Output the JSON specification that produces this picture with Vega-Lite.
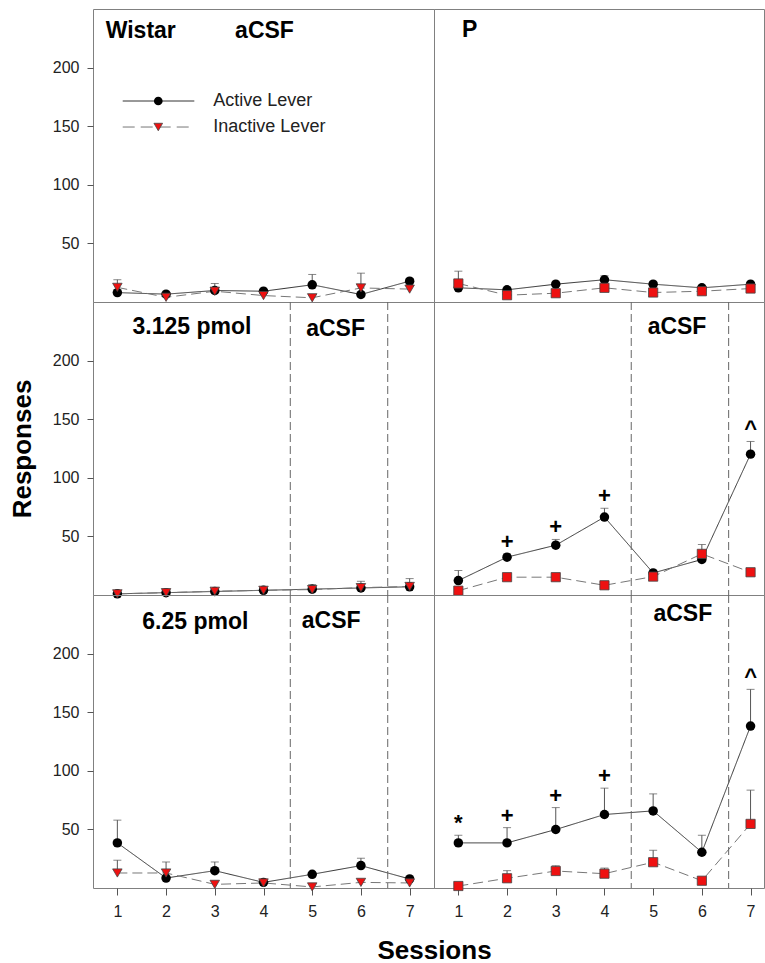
{
  "$schema": "https://vega.github.io/schema/vega-lite/v6.json",
  "padding": {"left": 8, "top": 8, "right": 1, "bottom": 0},
  "background": "white",
  "config": {
    "font": "Liberation Sans",
    "view": {"stroke": "#808080", "strokeWidth": 1},
    "axis": {"domain": false, "grid": false, "labelFont": "Liberation Sans", "labelFontSize": 16, "labelColor": "#222222", "tickColor": "#555555", "titleFont": "Liberation Sans", "titleFontSize": 26, "titleFontWeight": "bold", "titleColor": "#000000", "labelFlush": false},
    "text": {"font": "Liberation Sans"}
  },
  "datasets": {
    "obs": [
      {"strain":"Wistar","dose":"aCSF","lever":"Active","session":1,"mean":8,"upper":8},
      {"strain":"Wistar","dose":"aCSF","lever":"Active","session":2,"mean":6.7,"upper":6.7},
      {"strain":"Wistar","dose":"aCSF","lever":"Active","session":3,"mean":9.8,"upper":15.8},
      {"strain":"Wistar","dose":"aCSF","lever":"Active","session":4,"mean":9.2,"upper":9.2},
      {"strain":"Wistar","dose":"aCSF","lever":"Active","session":5,"mean":14.7,"upper":23.5},
      {"strain":"Wistar","dose":"aCSF","lever":"Active","session":6,"mean":6.4,"upper":6.4},
      {"strain":"Wistar","dose":"aCSF","lever":"Active","session":7,"mean":17.8,"upper":20},
      {"strain":"Wistar","dose":"aCSF","lever":"Inactive","session":1,"mean":12.5,"upper":19},
      {"strain":"Wistar","dose":"aCSF","lever":"Inactive","session":2,"mean":4,"upper":4},
      {"strain":"Wistar","dose":"aCSF","lever":"Inactive","session":3,"mean":9.2,"upper":9.2},
      {"strain":"Wistar","dose":"aCSF","lever":"Inactive","session":4,"mean":5.5,"upper":5.5},
      {"strain":"Wistar","dose":"aCSF","lever":"Inactive","session":5,"mean":3.6,"upper":3.6},
      {"strain":"Wistar","dose":"aCSF","lever":"Inactive","session":6,"mean":12,"upper":24.6},
      {"strain":"Wistar","dose":"aCSF","lever":"Inactive","session":7,"mean":11,"upper":11},
      {"strain":"P","dose":"aCSF","lever":"Active","session":1,"mean":12.1,"upper":12.1},
      {"strain":"P","dose":"aCSF","lever":"Active","session":2,"mean":10.4,"upper":10.4},
      {"strain":"P","dose":"aCSF","lever":"Active","session":3,"mean":15.2,"upper":15.2},
      {"strain":"P","dose":"aCSF","lever":"Active","session":4,"mean":19,"upper":22.4},
      {"strain":"P","dose":"aCSF","lever":"Active","session":5,"mean":15.2,"upper":17},
      {"strain":"P","dose":"aCSF","lever":"Active","session":6,"mean":12.1,"upper":12.1},
      {"strain":"P","dose":"aCSF","lever":"Active","session":7,"mean":15.2,"upper":15.2},
      {"strain":"P","dose":"aCSF","lever":"Inactive","session":1,"mean":15.8,"upper":26.3},
      {"strain":"P","dose":"aCSF","lever":"Inactive","session":2,"mean":5.8,"upper":5.8},
      {"strain":"P","dose":"aCSF","lever":"Inactive","session":3,"mean":7.5,"upper":7.5},
      {"strain":"P","dose":"aCSF","lever":"Inactive","session":4,"mean":12.1,"upper":12.1},
      {"strain":"P","dose":"aCSF","lever":"Inactive","session":5,"mean":8.1,"upper":8.1},
      {"strain":"P","dose":"aCSF","lever":"Inactive","session":6,"mean":9.2,"upper":9.2},
      {"strain":"P","dose":"aCSF","lever":"Inactive","session":7,"mean":11.5,"upper":11.5},
      {"strain":"Wistar","dose":"3.125 pmol","lever":"Active","session":1,"mean":1,"upper":1},
      {"strain":"Wistar","dose":"3.125 pmol","lever":"Active","session":2,"mean":2,"upper":2},
      {"strain":"Wistar","dose":"3.125 pmol","lever":"Active","session":3,"mean":3,"upper":3},
      {"strain":"Wistar","dose":"3.125 pmol","lever":"Active","session":4,"mean":4,"upper":4},
      {"strain":"Wistar","dose":"3.125 pmol","lever":"Active","session":5,"mean":5,"upper":8.9},
      {"strain":"Wistar","dose":"3.125 pmol","lever":"Active","session":6,"mean":6,"upper":11.7},
      {"strain":"Wistar","dose":"3.125 pmol","lever":"Active","session":7,"mean":7,"upper":14},
      {"strain":"Wistar","dose":"3.125 pmol","lever":"Inactive","session":1,"mean":1,"upper":1},
      {"strain":"Wistar","dose":"3.125 pmol","lever":"Inactive","session":2,"mean":2,"upper":2},
      {"strain":"Wistar","dose":"3.125 pmol","lever":"Inactive","session":3,"mean":3.2,"upper":3.2},
      {"strain":"Wistar","dose":"3.125 pmol","lever":"Inactive","session":4,"mean":4,"upper":4},
      {"strain":"Wistar","dose":"3.125 pmol","lever":"Inactive","session":5,"mean":4.6,"upper":4.6},
      {"strain":"Wistar","dose":"3.125 pmol","lever":"Inactive","session":6,"mean":6.3,"upper":6.3},
      {"strain":"Wistar","dose":"3.125 pmol","lever":"Inactive","session":7,"mean":7.3,"upper":7.3},
      {"strain":"P","dose":"3.125 pmol","lever":"Active","session":1,"mean":12.3,"upper":20.9},
      {"strain":"P","dose":"3.125 pmol","lever":"Active","session":2,"mean":32.3,"upper":35,"sig":"+"},
      {"strain":"P","dose":"3.125 pmol","lever":"Active","session":3,"mean":42.5,"upper":47.4,"sig":"+"},
      {"strain":"P","dose":"3.125 pmol","lever":"Active","session":4,"mean":66.5,"upper":74,"sig":"+"},
      {"strain":"P","dose":"3.125 pmol","lever":"Active","session":5,"mean":18.8,"upper":18.8},
      {"strain":"P","dose":"3.125 pmol","lever":"Active","session":6,"mean":30.3,"upper":30.3},
      {"strain":"P","dose":"3.125 pmol","lever":"Active","session":7,"mean":120.2,"upper":131,"sig":"^"},
      {"strain":"P","dose":"3.125 pmol","lever":"Inactive","session":1,"mean":3.7,"upper":3.7},
      {"strain":"P","dose":"3.125 pmol","lever":"Inactive","session":2,"mean":15.2,"upper":15.2},
      {"strain":"P","dose":"3.125 pmol","lever":"Inactive","session":3,"mean":15.2,"upper":15.2},
      {"strain":"P","dose":"3.125 pmol","lever":"Inactive","session":4,"mean":8.3,"upper":8.3},
      {"strain":"P","dose":"3.125 pmol","lever":"Inactive","session":5,"mean":15.7,"upper":15.7},
      {"strain":"P","dose":"3.125 pmol","lever":"Inactive","session":6,"mean":35.1,"upper":43.1},
      {"strain":"P","dose":"3.125 pmol","lever":"Inactive","session":7,"mean":19.4,"upper":19.4},
      {"strain":"Wistar","dose":"6.25 pmol","lever":"Active","session":1,"mean":38.5,"upper":57.9},
      {"strain":"Wistar","dose":"6.25 pmol","lever":"Active","session":2,"mean":8.5,"upper":8.5},
      {"strain":"Wistar","dose":"6.25 pmol","lever":"Active","session":3,"mean":14.8,"upper":22.2},
      {"strain":"Wistar","dose":"6.25 pmol","lever":"Active","session":4,"mean":4.8,"upper":4.8},
      {"strain":"Wistar","dose":"6.25 pmol","lever":"Active","session":5,"mean":11.7,"upper":11.7},
      {"strain":"Wistar","dose":"6.25 pmol","lever":"Active","session":6,"mean":19.1,"upper":25.4},
      {"strain":"Wistar","dose":"6.25 pmol","lever":"Active","session":7,"mean":7.7,"upper":7.7},
      {"strain":"Wistar","dose":"6.25 pmol","lever":"Inactive","session":1,"mean":12.8,"upper":23.7},
      {"strain":"Wistar","dose":"6.25 pmol","lever":"Inactive","session":2,"mean":12.8,"upper":22.2},
      {"strain":"Wistar","dose":"6.25 pmol","lever":"Inactive","session":3,"mean":3.1,"upper":3.1},
      {"strain":"Wistar","dose":"6.25 pmol","lever":"Inactive","session":4,"mean":4.3,"upper":4.3},
      {"strain":"Wistar","dose":"6.25 pmol","lever":"Inactive","session":5,"mean":0.9,"upper":0.9},
      {"strain":"Wistar","dose":"6.25 pmol","lever":"Inactive","session":6,"mean":4.8,"upper":4.8},
      {"strain":"Wistar","dose":"6.25 pmol","lever":"Inactive","session":7,"mean":4.3,"upper":4.3},
      {"strain":"P","dose":"6.25 pmol","lever":"Active","session":1,"mean":38.5,"upper":45,"sig":"*"},
      {"strain":"P","dose":"6.25 pmol","lever":"Active","session":2,"mean":38.5,"upper":51.5,"sig":"+"},
      {"strain":"P","dose":"6.25 pmol","lever":"Active","session":3,"mean":49.9,"upper":68.6,"sig":"+"},
      {"strain":"P","dose":"6.25 pmol","lever":"Active","session":4,"mean":62.7,"upper":85.2,"sig":"+"},
      {"strain":"P","dose":"6.25 pmol","lever":"Active","session":5,"mean":65.8,"upper":80.3},
      {"strain":"P","dose":"6.25 pmol","lever":"Active","session":6,"mean":30.5,"upper":45},
      {"strain":"P","dose":"6.25 pmol","lever":"Active","session":7,"mean":138.2,"upper":169.5,"sig":"^"},
      {"strain":"P","dose":"6.25 pmol","lever":"Inactive","session":1,"mean":1.7,"upper":1.7},
      {"strain":"P","dose":"6.25 pmol","lever":"Inactive","session":2,"mean":8.3,"upper":14.8},
      {"strain":"P","dose":"6.25 pmol","lever":"Inactive","session":3,"mean":14.5,"upper":19},
      {"strain":"P","dose":"6.25 pmol","lever":"Inactive","session":4,"mean":12.2,"upper":17},
      {"strain":"P","dose":"6.25 pmol","lever":"Inactive","session":5,"mean":22,"upper":32.2},
      {"strain":"P","dose":"6.25 pmol","lever":"Inactive","session":6,"mean":6.2,"upper":6.2},
      {"strain":"P","dose":"6.25 pmol","lever":"Inactive","session":7,"mean":54.7,"upper":83.5}
    ]
  },
  "columns": 2,
  "spacing": 0,
  "bounds": "flush",
  "concat": [
    {
      "width": 341, "height": 293,
      "data": {"name": "obs"},
      "transform": [{"filter": "datum.strain == 'Wistar' && datum.dose == 'aCSF'"}],
      "layer": [
        {"mark": {"type": "line", "strokeWidth": 1},
         "encoding": {
           "x": {"field": "session", "type": "quantitative", "scale": {"domain": [0.5, 7.5], "nice": false, "zero": false}, "axis": null},
           "y": {"field": "mean", "type": "quantitative", "scale": {"domain": [0, 250], "nice": false, "zero": false}, "axis": {"values": [50, 100, 150, 200], "tickSize": 6, "labelPadding": 8, "title": null}},
           "color": {"field": "lever", "type": "nominal", "scale": {"domain": ["Active", "Inactive"], "range": ["#333333", "#777777"]}, "legend": null},
           "strokeDash": {"field": "lever", "type": "nominal", "scale": {"domain": ["Active", "Inactive"], "range": [[1, 0], [10, 5]]}, "legend": null}}},
        {"transform": [{"filter": "datum.upper > datum.mean"}],
         "mark": {"type": "rule", "color": "#555555", "strokeWidth": 1},
         "encoding": {"x": {"field": "session", "type": "quantitative"}, "y": {"field": "mean", "type": "quantitative"}, "y2": {"field": "upper"}}},
        {"transform": [{"filter": "datum.upper > datum.mean"}],
         "mark": {"type": "tick", "orient": "horizontal", "color": "#555555", "size": 8, "thickness": 1},
         "encoding": {"x": {"field": "session", "type": "quantitative"}, "y": {"field": "upper", "type": "quantitative"}}},
        {"transform": [{"filter": "datum.lever == 'Active'"}],
         "mark": {"type": "point", "shape": "circle", "filled": true, "color": "#000000", "size": 90, "opacity": 1},
         "encoding": {"x": {"field": "session", "type": "quantitative"}, "y": {"field": "mean", "type": "quantitative"}}},
        {"transform": [{"filter": "datum.lever == 'Inactive'"}],
         "mark": {"type": "point", "shape": "triangle-down", "filled": true, "fill": "#ee1111", "stroke": "#444444", "strokeWidth": 0.8, "size": 90, "opacity": 1},
         "encoding": {"x": {"field": "session", "type": "quantitative"}, "y": {"field": "mean", "type": "quantitative"}}},
        {"data": {"values": [{}]}, "mark": {"type": "text", "fontSize": 23, "fontWeight": "bold", "align": "center", "baseline": "alphabetic", "color": "#000000"},
         "encoding": {"x": {"datum": 1.48}, "y": {"datum": 225.4}, "text": {"value": "Wistar"}}},
        {"data": {"values": [{}]}, "mark": {"type": "text", "fontSize": 23, "fontWeight": "bold", "align": "center", "baseline": "alphabetic", "color": "#000000"},
         "encoding": {"x": {"datum": 4.02}, "y": {"datum": 225.4}, "text": {"value": "aCSF"}}},
        {"data": {"values": [{}]}, "mark": {"type": "rule", "color": "#333333", "strokeWidth": 1},
         "encoding": {"x": {"datum": 1.11}, "x2": {"datum": 2.58}, "y": {"datum": 171.5}}},
        {"data": {"values": [{}]}, "mark": {"type": "point", "shape": "circle", "filled": true, "color": "#000000", "size": 75, "opacity": 1},
         "encoding": {"x": {"datum": 1.84}, "y": {"datum": 171.5}}},
        {"data": {"values": [{}]}, "mark": {"type": "text", "fontSize": 18, "align": "left", "baseline": "middle", "color": "#222222"},
         "encoding": {"x": {"datum": 2.97}, "y": {"datum": 171.5}, "text": {"value": "Active Lever"}}},
        {"data": {"values": [{}]}, "mark": {"type": "rule", "color": "#777777", "strokeWidth": 1, "strokeDash": [12, 6]},
         "encoding": {"x": {"datum": 1.11}, "x2": {"datum": 2.58}, "y": {"datum": 149.3}}},
        {"data": {"values": [{}]}, "mark": {"type": "point", "shape": "triangle-down", "filled": true, "fill": "#ee1111", "stroke": "#444444", "strokeWidth": 0.8, "size": 75, "opacity": 1},
         "encoding": {"x": {"datum": 1.84}, "y": {"datum": 149.3}}},
        {"data": {"values": [{}]}, "mark": {"type": "text", "fontSize": 18, "align": "left", "baseline": "middle", "color": "#222222"},
         "encoding": {"x": {"datum": 2.97}, "y": {"datum": 149.3}, "text": {"value": "Inactive Lever"}}}
      ]
    },
    {
      "width": 330, "height": 293,
      "data": {"name": "obs"},
      "transform": [{"filter": "datum.strain == 'P' && datum.dose == 'aCSF'"}],
      "layer": [
        {"mark": {"type": "line", "strokeWidth": 1},
         "encoding": {
           "x": {"field": "session", "type": "quantitative", "scale": {"domain": [0.5, 7.276], "nice": false, "zero": false}, "axis": null},
           "y": {"field": "mean", "type": "quantitative", "scale": {"domain": [0, 250], "nice": false, "zero": false}, "axis": null},
           "color": {"field": "lever", "type": "nominal", "scale": {"domain": ["Active", "Inactive"], "range": ["#333333", "#777777"]}, "legend": null},
           "strokeDash": {"field": "lever", "type": "nominal", "scale": {"domain": ["Active", "Inactive"], "range": [[1, 0], [10, 5]]}, "legend": null}}},
        {"transform": [{"filter": "datum.upper > datum.mean"}],
         "mark": {"type": "rule", "color": "#555555", "strokeWidth": 1},
         "encoding": {"x": {"field": "session", "type": "quantitative", "axis": null}, "y": {"field": "mean", "type": "quantitative", "axis": null}, "y2": {"field": "upper"}}},
        {"transform": [{"filter": "datum.upper > datum.mean"}],
         "mark": {"type": "tick", "orient": "horizontal", "color": "#555555", "size": 8, "thickness": 1},
         "encoding": {"x": {"field": "session", "type": "quantitative", "axis": null}, "y": {"field": "upper", "type": "quantitative", "axis": null}}},
        {"transform": [{"filter": "datum.lever == 'Active'"}],
         "mark": {"type": "point", "shape": "circle", "filled": true, "color": "#000000", "size": 90, "opacity": 1},
         "encoding": {"x": {"field": "session", "type": "quantitative", "axis": null}, "y": {"field": "mean", "type": "quantitative", "axis": null}}},
        {"transform": [{"filter": "datum.lever == 'Inactive'"}],
         "mark": {"type": "point", "shape": "square", "filled": true, "fill": "#ee1111", "stroke": "#444444", "strokeWidth": 0.8, "size": 85, "opacity": 1},
         "encoding": {"x": {"field": "session", "type": "quantitative", "axis": null}, "y": {"field": "mean", "type": "quantitative", "axis": null}}},
        {"data": {"values": [{}]}, "mark": {"type": "text", "fontSize": 23, "fontWeight": "bold", "align": "center", "baseline": "alphabetic", "color": "#000000"},
         "encoding": {"x": {"datum": 1.23, "axis": null}, "y": {"datum": 226, "axis": null}, "text": {"value": "P"}}}
      ]
    },
    {
      "width": 341, "height": 293,
      "data": {"name": "obs"},
      "transform": [{"filter": "datum.strain == 'Wistar' && datum.dose == '3.125 pmol'"}],
      "layer": [
        {"mark": {"type": "line", "strokeWidth": 1},
         "encoding": {
           "x": {"field": "session", "type": "quantitative", "scale": {"domain": [0.5, 7.5], "nice": false, "zero": false}, "axis": null},
           "y": {"field": "mean", "type": "quantitative", "scale": {"domain": [0, 250], "nice": false, "zero": false}, "axis": {"values": [50, 100, 150, 200], "tickSize": 6, "labelPadding": 8, "title": "Responses", "titlePadding": 17}},
           "color": {"field": "lever", "type": "nominal", "scale": {"domain": ["Active", "Inactive"], "range": ["#333333", "#777777"]}, "legend": null},
           "strokeDash": {"field": "lever", "type": "nominal", "scale": {"domain": ["Active", "Inactive"], "range": [[1, 0], [10, 5]]}, "legend": null}}},
        {"data": {"values": [{}]}, "mark": {"type": "rule", "color": "#666666", "strokeWidth": 1, "strokeDash": [8, 4]},
         "encoding": {"x": {"datum": 4.55}}},
        {"data": {"values": [{}]}, "mark": {"type": "rule", "color": "#666666", "strokeWidth": 1, "strokeDash": [8, 4]},
         "encoding": {"x": {"datum": 6.55}}},
        {"transform": [{"filter": "datum.upper > datum.mean"}],
         "mark": {"type": "rule", "color": "#555555", "strokeWidth": 1},
         "encoding": {"x": {"field": "session", "type": "quantitative"}, "y": {"field": "mean", "type": "quantitative"}, "y2": {"field": "upper"}}},
        {"transform": [{"filter": "datum.upper > datum.mean"}],
         "mark": {"type": "tick", "orient": "horizontal", "color": "#555555", "size": 8, "thickness": 1},
         "encoding": {"x": {"field": "session", "type": "quantitative"}, "y": {"field": "upper", "type": "quantitative"}}},
        {"transform": [{"filter": "datum.lever == 'Active'"}],
         "mark": {"type": "point", "shape": "circle", "filled": true, "color": "#000000", "size": 90, "opacity": 1},
         "encoding": {"x": {"field": "session", "type": "quantitative"}, "y": {"field": "mean", "type": "quantitative"}}},
        {"transform": [{"filter": "datum.lever == 'Inactive'"}],
         "mark": {"type": "point", "shape": "triangle-down", "filled": true, "fill": "#ee1111", "stroke": "#444444", "strokeWidth": 0.8, "size": 90, "opacity": 1},
         "encoding": {"x": {"field": "session", "type": "quantitative"}, "y": {"field": "mean", "type": "quantitative"}}},
        {"data": {"values": [{}]}, "mark": {"type": "text", "fontSize": 23, "fontWeight": "bold", "align": "center", "baseline": "alphabetic", "color": "#000000"},
         "encoding": {"x": {"datum": 2.53}, "y": {"datum": 222.4}, "text": {"value": "3.125 pmol"}}},
        {"data": {"values": [{}]}, "mark": {"type": "text", "fontSize": 23, "fontWeight": "bold", "align": "center", "baseline": "alphabetic", "color": "#000000"},
         "encoding": {"x": {"datum": 5.48}, "y": {"datum": 221}, "text": {"value": "aCSF"}}}
      ]
    },
    {
      "width": 330, "height": 293,
      "data": {"name": "obs"},
      "transform": [{"filter": "datum.strain == 'P' && datum.dose == '3.125 pmol'"}],
      "layer": [
        {"mark": {"type": "line", "strokeWidth": 1},
         "encoding": {
           "x": {"field": "session", "type": "quantitative", "scale": {"domain": [0.5, 7.276], "nice": false, "zero": false}, "axis": null},
           "y": {"field": "mean", "type": "quantitative", "scale": {"domain": [0, 250], "nice": false, "zero": false}, "axis": null},
           "color": {"field": "lever", "type": "nominal", "scale": {"domain": ["Active", "Inactive"], "range": ["#333333", "#777777"]}, "legend": null},
           "strokeDash": {"field": "lever", "type": "nominal", "scale": {"domain": ["Active", "Inactive"], "range": [[1, 0], [10, 5]]}, "legend": null}}},
        {"data": {"values": [{}]}, "mark": {"type": "rule", "color": "#666666", "strokeWidth": 1, "strokeDash": [8, 4]},
         "encoding": {"x": {"datum": 4.55, "axis": null}}},
        {"data": {"values": [{}]}, "mark": {"type": "rule", "color": "#666666", "strokeWidth": 1, "strokeDash": [8, 4]},
         "encoding": {"x": {"datum": 6.55, "axis": null}}},
        {"transform": [{"filter": "datum.upper > datum.mean"}],
         "mark": {"type": "rule", "color": "#555555", "strokeWidth": 1},
         "encoding": {"x": {"field": "session", "type": "quantitative", "axis": null}, "y": {"field": "mean", "type": "quantitative", "axis": null}, "y2": {"field": "upper"}}},
        {"transform": [{"filter": "datum.upper > datum.mean"}],
         "mark": {"type": "tick", "orient": "horizontal", "color": "#555555", "size": 8, "thickness": 1},
         "encoding": {"x": {"field": "session", "type": "quantitative", "axis": null}, "y": {"field": "upper", "type": "quantitative", "axis": null}}},
        {"transform": [{"filter": "datum.lever == 'Active'"}],
         "mark": {"type": "point", "shape": "circle", "filled": true, "color": "#000000", "size": 90, "opacity": 1},
         "encoding": {"x": {"field": "session", "type": "quantitative", "axis": null}, "y": {"field": "mean", "type": "quantitative", "axis": null}}},
        {"transform": [{"filter": "datum.lever == 'Inactive'"}],
         "mark": {"type": "point", "shape": "square", "filled": true, "fill": "#ee1111", "stroke": "#444444", "strokeWidth": 0.8, "size": 85, "opacity": 1},
         "encoding": {"x": {"field": "session", "type": "quantitative", "axis": null}, "y": {"field": "mean", "type": "quantitative", "axis": null}}},
        {"transform": [{"filter": "isValid(datum.sig)"}],
         "mark": {"type": "text", "fontSize": 22, "fontWeight": "bold", "align": "center", "baseline": "bottom", "color": "#000000"},
         "encoding": {"x": {"field": "session", "type": "quantitative", "axis": null}, "y": {"field": "upper", "type": "quantitative", "axis": null}, "text": {"field": "sig"}}},
        {"data": {"values": [{}]}, "mark": {"type": "text", "fontSize": 23, "fontWeight": "bold", "align": "center", "baseline": "alphabetic", "color": "#000000"},
         "encoding": {"x": {"datum": 5.49, "axis": null}, "y": {"datum": 222.7, "axis": null}, "text": {"value": "aCSF"}}}
      ]
    },
    {
      "width": 341, "height": 293,
      "data": {"name": "obs"},
      "transform": [{"filter": "datum.strain == 'Wistar' && datum.dose == '6.25 pmol'"}],
      "layer": [
        {"mark": {"type": "line", "strokeWidth": 1},
         "encoding": {
           "x": {"field": "session", "type": "quantitative", "scale": {"domain": [0.5, 7.5], "nice": false, "zero": false}, "axis": {"values": [1, 2, 3, 4, 5, 6, 7], "tickSize": 7, "labelPadding": 8, "title": "Sessions", "titleAnchor": "end", "titleAlign": "center", "titlePadding": 18}},
           "y": {"field": "mean", "type": "quantitative", "scale": {"domain": [0, 250], "nice": false, "zero": false}, "axis": {"values": [50, 100, 150, 200], "tickSize": 6, "labelPadding": 8, "title": null}},
           "color": {"field": "lever", "type": "nominal", "scale": {"domain": ["Active", "Inactive"], "range": ["#333333", "#777777"]}, "legend": null},
           "strokeDash": {"field": "lever", "type": "nominal", "scale": {"domain": ["Active", "Inactive"], "range": [[1, 0], [10, 5]]}, "legend": null}}},
        {"data": {"values": [{}]}, "mark": {"type": "rule", "color": "#666666", "strokeWidth": 1, "strokeDash": [8, 4]},
         "encoding": {"x": {"datum": 4.55}}},
        {"data": {"values": [{}]}, "mark": {"type": "rule", "color": "#666666", "strokeWidth": 1, "strokeDash": [8, 4]},
         "encoding": {"x": {"datum": 6.55}}},
        {"transform": [{"filter": "datum.upper > datum.mean"}],
         "mark": {"type": "rule", "color": "#555555", "strokeWidth": 1},
         "encoding": {"x": {"field": "session", "type": "quantitative"}, "y": {"field": "mean", "type": "quantitative"}, "y2": {"field": "upper"}}},
        {"transform": [{"filter": "datum.upper > datum.mean"}],
         "mark": {"type": "tick", "orient": "horizontal", "color": "#555555", "size": 8, "thickness": 1},
         "encoding": {"x": {"field": "session", "type": "quantitative"}, "y": {"field": "upper", "type": "quantitative"}}},
        {"transform": [{"filter": "datum.lever == 'Active'"}],
         "mark": {"type": "point", "shape": "circle", "filled": true, "color": "#000000", "size": 90, "opacity": 1},
         "encoding": {"x": {"field": "session", "type": "quantitative"}, "y": {"field": "mean", "type": "quantitative"}}},
        {"transform": [{"filter": "datum.lever == 'Inactive'"}],
         "mark": {"type": "point", "shape": "triangle-down", "filled": true, "fill": "#ee1111", "stroke": "#444444", "strokeWidth": 0.8, "size": 90, "opacity": 1},
         "encoding": {"x": {"field": "session", "type": "quantitative"}, "y": {"field": "mean", "type": "quantitative"}}},
        {"data": {"values": [{}]}, "mark": {"type": "text", "fontSize": 23, "fontWeight": "bold", "align": "center", "baseline": "alphabetic", "color": "#000000"},
         "encoding": {"x": {"datum": 2.6}, "y": {"datum": 220.7}, "text": {"value": "6.25 pmol"}}},
        {"data": {"values": [{}]}, "mark": {"type": "text", "fontSize": 23, "fontWeight": "bold", "align": "center", "baseline": "alphabetic", "color": "#000000"},
         "encoding": {"x": {"datum": 5.39}, "y": {"datum": 222}, "text": {"value": "aCSF"}}}
      ]
    },
    {
      "width": 330, "height": 293,
      "data": {"name": "obs"},
      "transform": [{"filter": "datum.strain == 'P' && datum.dose == '6.25 pmol'"}],
      "layer": [
        {"mark": {"type": "line", "strokeWidth": 1},
         "encoding": {
           "x": {"field": "session", "type": "quantitative", "scale": {"domain": [0.5, 7.276], "nice": false, "zero": false}, "axis": {"values": [1, 2, 3, 4, 5, 6, 7], "tickSize": 7, "labelPadding": 8, "title": null}},
           "y": {"field": "mean", "type": "quantitative", "scale": {"domain": [0, 250], "nice": false, "zero": false}, "axis": null},
           "color": {"field": "lever", "type": "nominal", "scale": {"domain": ["Active", "Inactive"], "range": ["#333333", "#777777"]}, "legend": null},
           "strokeDash": {"field": "lever", "type": "nominal", "scale": {"domain": ["Active", "Inactive"], "range": [[1, 0], [10, 5]]}, "legend": null}}},
        {"data": {"values": [{}]}, "mark": {"type": "rule", "color": "#666666", "strokeWidth": 1, "strokeDash": [8, 4]},
         "encoding": {"x": {"datum": 4.55}}},
        {"data": {"values": [{}]}, "mark": {"type": "rule", "color": "#666666", "strokeWidth": 1, "strokeDash": [8, 4]},
         "encoding": {"x": {"datum": 6.55}}},
        {"transform": [{"filter": "datum.upper > datum.mean"}],
         "mark": {"type": "rule", "color": "#555555", "strokeWidth": 1},
         "encoding": {"x": {"field": "session", "type": "quantitative"}, "y": {"field": "mean", "type": "quantitative", "axis": null}, "y2": {"field": "upper"}}},
        {"transform": [{"filter": "datum.upper > datum.mean"}],
         "mark": {"type": "tick", "orient": "horizontal", "color": "#555555", "size": 8, "thickness": 1},
         "encoding": {"x": {"field": "session", "type": "quantitative"}, "y": {"field": "upper", "type": "quantitative", "axis": null}}},
        {"transform": [{"filter": "datum.lever == 'Active'"}],
         "mark": {"type": "point", "shape": "circle", "filled": true, "color": "#000000", "size": 90, "opacity": 1},
         "encoding": {"x": {"field": "session", "type": "quantitative"}, "y": {"field": "mean", "type": "quantitative", "axis": null}}},
        {"transform": [{"filter": "datum.lever == 'Inactive'"}],
         "mark": {"type": "point", "shape": "square", "filled": true, "fill": "#ee1111", "stroke": "#444444", "strokeWidth": 0.8, "size": 85, "opacity": 1},
         "encoding": {"x": {"field": "session", "type": "quantitative"}, "y": {"field": "mean", "type": "quantitative", "axis": null}}},
        {"transform": [{"filter": "isValid(datum.sig)"}],
         "mark": {"type": "text", "fontSize": 22, "fontWeight": "bold", "align": "center", "baseline": "bottom", "color": "#000000"},
         "encoding": {"x": {"field": "session", "type": "quantitative"}, "y": {"field": "upper", "type": "quantitative", "axis": null}, "text": {"field": "sig"}}},
        {"data": {"values": [{}]}, "mark": {"type": "text", "fontSize": 23, "fontWeight": "bold", "align": "center", "baseline": "alphabetic", "color": "#000000"},
         "encoding": {"x": {"datum": 5.61}, "y": {"datum": 228, "axis": null}, "text": {"value": "aCSF"}}}
      ]
    }
  ]
}
